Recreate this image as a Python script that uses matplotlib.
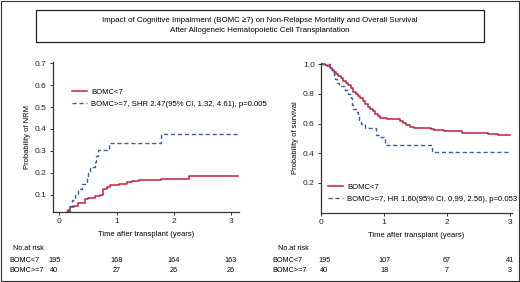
import matplotlib
matplotlib.use('Agg')
import matplotlib.pyplot as plt
from matplotlib.patches import Rectangle

plt.rcParams['font.family'] = ['Liberation Sans', 'DejaVu Sans']

RED = '#C0203F'
BLUE = '#3F5E9E'

# NRM (cumulative incidence) step data
nrm_lo_t = [0.0, 0.13, 0.15, 0.19, 0.25, 0.33, 0.45, 0.51, 0.63, 0.71, 0.77, 0.83, 0.89, 1.04, 1.18, 1.27, 1.39, 1.78, 2.26, 3.13]
nrm_lo_v = [0.0, 0.02, 0.029, 0.045, 0.051, 0.064, 0.08, 0.088, 0.095, 0.10, 0.127, 0.135, 0.146, 0.15, 0.158, 0.163, 0.167, 0.174, 0.184, 0.184]
nrm_hi_t = [0.0, 0.15, 0.18, 0.22, 0.27, 0.32, 0.40, 0.48, 0.50, 0.53, 0.62, 0.65, 0.68, 0.87, 1.77, 3.13]
nrm_hi_v = [0.0, 0.025, 0.05, 0.075, 0.10, 0.125, 0.15, 0.175, 0.20, 0.225, 0.25, 0.275, 0.305, 0.335, 0.375, 0.375]

# overall survival step data
os_lo_t = [0.0, 0.06, 0.10, 0.14, 0.17, 0.20, 0.24, 0.27, 0.31, 0.35, 0.39, 0.43, 0.47, 0.51, 0.55, 0.59, 0.62, 0.66,
           0.70, 0.74, 0.78, 0.82, 0.86, 0.90, 0.94, 1.04, 1.26, 1.30, 1.35, 1.41, 1.47, 1.74, 1.79, 1.95, 2.24, 2.65, 2.81, 3.0]
os_lo_v = [1.0, 0.995, 0.985, 0.975, 0.96, 0.945, 0.935, 0.92, 0.905, 0.89, 0.875, 0.86, 0.84, 0.815, 0.80, 0.785, 0.77, 0.75,
           0.73, 0.715, 0.70, 0.685, 0.665, 0.65, 0.64, 0.63, 0.62, 0.605, 0.59, 0.58, 0.57, 0.563, 0.557, 0.55, 0.54, 0.532, 0.52, 0.52]
os_hi_t = [0.0, 0.14, 0.17, 0.20, 0.22, 0.25, 0.28, 0.38, 0.43, 0.47, 0.49, 0.51, 0.57, 0.59, 0.61, 0.63, 0.70, 0.88, 0.94, 1.02, 1.76, 3.0]
os_hi_v = [1.0, 0.975, 0.95, 0.925, 0.9, 0.875, 0.85, 0.825, 0.8, 0.775, 0.725, 0.7, 0.675, 0.65, 0.625, 0.6, 0.57, 0.525, 0.51, 0.455, 0.41, 0.41]

risk_times = [0, 1, 2, 3]
risk_nrm_lo = [195, 168, 164, 163]
risk_nrm_hi = [40, 27, 26, 26]
risk_os_lo = [195, 107, 67, 41]
risk_os_hi = [40, 18, 7, 3]

lbl_lo = 'BOMC<7'
lbl_hi = 'BOMC>=7'
leg_nrm = 'BOMC>=7, SHR 2.47(95% CI, 1.32, 4.61), p=0.005'
leg_os = 'BOMC>=7, HR 1.60(95% CI, 0.99, 2.56), p=0.053'

W, H = 520, 282
fig = plt.figure(figsize=(W / 100, H / 100), dpi=100)

# outer frame + title box
fig.patches.append(Rectangle((0.001, 0.002), 0.997, 0.994, transform=fig.transFigure,
                             fill=False, lw=0.8, ec='#333333'))
fig.patches.append(Rectangle((36 / W, 1 - 42 / H), 448 / W, 32 / H, transform=fig.transFigure,
                             fill=False, lw=0.9, ec='#222222'))
fig.text(0.5, 1 - 20 / H, 'Impact of Cognitive Impairment (BOMC \u22657) on Non-Relapse Mortality and Overall Survival',
         ha='center', va='center', fontsize=5.7)
fig.text(0.5, 1 - 30.5 / H, 'After Allogeneic Hematopoietic Cell Transplantation',
         ha='center', va='center', fontsize=5.7)

ax1 = fig.add_axes([53 / W, 1 - 212 / H, 186 / W, 150 / H])
ax2 = fig.add_axes([321 / W, 1 - 212.7 / H, 191 / W, 150 / H])

ax1.step(nrm_lo_t, nrm_lo_v, where='post', color=RED, lw=1.1, label=lbl_lo)
ax1.step(nrm_hi_t, nrm_hi_v, where='post', color=BLUE, lw=1.0, ls=(0, (3, 2)), label=leg_nrm)
ax1.set_xlim(-0.11, 3.14)
ax1.set_ylim(0.022, 0.705)
ax1.set_yticks([0.1, 0.2, 0.3, 0.4, 0.5, 0.6, 0.7])
ax1.set_xticks([0, 1, 2, 3])
ax1.set_ylabel('Probability of NRM', fontsize=5.5, labelpad=3)
ax1.legend(loc='upper left', bbox_to_anchor=(0.085, 0.845), frameon=False, fontsize=5.6,
           handlelength=2.0, handletextpad=0.5, borderaxespad=0, labelspacing=0.55)

ax2.step(os_lo_t, os_lo_v, where='post', color=RED, lw=1.1, label=lbl_lo)
ax2.step(os_hi_t, os_hi_v, where='post', color=BLUE, lw=1.0, ls=(0, (3, 2)), label=leg_os)
ax2.set_xlim(0, 3.03)
ax2.set_ylim(0, 1.01)
ax2.set_yticks([0.2, 0.4, 0.6, 0.8, 1.0])
ax2.set_xticks([0, 1, 2, 3])
ax2.set_ylabel('Probability of survival', fontsize=5.5, labelpad=3)
ax2.legend(loc='lower left', bbox_to_anchor=(0.02, 0.045), frameon=False, fontsize=5.6,
           handlelength=2.0, handletextpad=0.5, borderaxespad=0, labelspacing=0.55)

for ax in (ax1, ax2):
    for s in ('top', 'right'):
        ax.spines[s].set_visible(False)
    for s in ('left', 'bottom'):
        ax.spines[s].set_color('#333333')
        ax.spines[s].set_linewidth(0.9)
    ax.tick_params(labelsize=6.0, length=2.5, width=0.7, pad=2, colors='#333333', labelcolor='#222222')
    ax.yaxis.set_major_formatter(matplotlib.ticker.FormatStrFormatter('%.1f'))
    ax.set_xlabel('Time after transplant (years)', fontsize=5.5, labelpad=4)

# risk tables
def risk_table(ax, x_name, x_label, lo, hi, first_shift):
    fig.text(x_name / W, 1 - 249 / H, 'No.at risk', fontsize=5.2, va='center', ha='left')
    fig.text(x_label / W, 1 - 260 / H, lbl_lo, fontsize=5.2, va='center', ha='left')
    fig.text(x_label / W, 1 - 270 / H, lbl_hi, fontsize=5.2, va='center', ha='left')
    tr = matplotlib.transforms.blended_transform_factory(ax.transData, fig.transFigure)
    for i, t in enumerate(risk_times):
        xx = t + (first_shift if i == 0 else 0)
        ax.text(xx, 1 - 260 / H, str(lo[i]), transform=tr, fontsize=5.2, ha='center', va='center')
        ax.text(xx, 1 - 270 / H, str(hi[i]), transform=tr, fontsize=5.2, ha='center', va='center')

risk_table(ax1, 13, 9, risk_nrm_lo, risk_nrm_hi, -0.09)
risk_table(ax2, 278, 272, risk_os_lo, risk_os_hi, 0.05)

fig.savefig('out.png', dpi=100)
